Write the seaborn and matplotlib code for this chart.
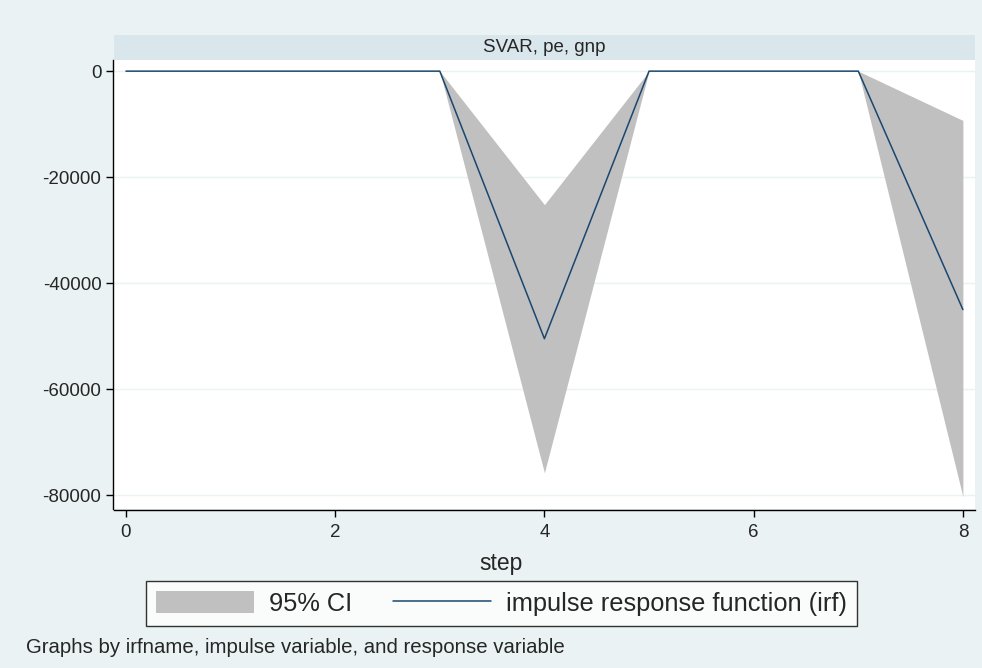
import matplotlib
matplotlib.use("Agg")
import matplotlib.pyplot as plt
import seaborn as sns
import pandas as pd
from matplotlib.patches import Patch
from matplotlib.lines import Line2D

step = [0, 1, 2, 3, 4, 5, 6, 7, 8]
irf = [0, 0, 0, 0, -50500, 0, 0, 0, -45000]
ci_low = [0, 0, 0, 0, -75800, 0, 0, 0, -80300]
ci_high = [0, 0, 0, 0, -25200, 0, 0, 0, -9300]
y_ticks = [0, -20000, -40000, -60000, -80000]
x_ticks = [0, 2, 4, 6, 8]

df = pd.DataFrame({"step": step, "irf": irf, "lo": ci_low, "hi": ci_high})

sns.set_theme(style="white")
plt.rcParams["font.family"] = ["Liberation Sans", "DejaVu Sans"]
plt.rcParams["axes.unicode_minus"] = False

bg = "#EAF2F3"
fig = plt.figure(figsize=(9.82, 6.68), dpi=100, facecolor=bg)
ax = fig.add_axes([0.116, 0.238, 0.877, 0.672])
ax.set_facecolor("white")

# banda de confianza y funcion impulso-respuesta
ax.fill_between(df["step"], df["lo"], df["hi"], color="#C0C0C0", linewidth=0, zorder=2)
sns.lineplot(data=df, x="step", y="irf", color="#1A476F", linewidth=1.1, ax=ax, zorder=3)

ax.set_xlim(-0.115, 8.117)
ax.set_ylim(-82640, 2080)
ax.set_xticks(x_ticks)
ax.set_yticks(y_ticks)
ax.set_yticklabels([str(v) for v in y_ticks])
ax.yaxis.grid(True, color=bg, linewidth=1)
ax.set_axisbelow(True)
ax.tick_params(axis="both", direction="out", length=5, width=1, color="black",
               labelsize=13.5, left=True, bottom=True)
ax.tick_params(axis="y", pad=3)
ax.tick_params(axis="x", pad=5)
for s in ["top", "right"]:
    ax.spines[s].set_visible(False)
for s in ["left", "bottom"]:
    ax.spines[s].set_color("black")
    ax.spines[s].set_linewidth(1)
ax.spines["left"].set_position(("outward", 1))
ax.spines["bottom"].set_position(("outward", 1))
ax.set_xlabel("step", fontsize=16.5, labelpad=8)
ax.xaxis.label.set_x(0.45)
ax.set_ylabel("")

# cabecera del panel
strip = fig.add_axes([0.116, 0.910, 0.877, 0.038])
strip.set_facecolor("#D9E6EB")
strip.set_xticks([])
strip.set_yticks([])
for s in strip.spines.values():
    s.set_visible(False)
strip.text(0.5, 0.5, "SVAR, pe, gnp", ha="center", va="center", fontsize=13.5)

handles = [Patch(facecolor="#C0C0C0", edgecolor="none"),
           Line2D([0], [0], color="#1A476F", linewidth=1.1)]
leg = fig.legend(handles, ["95% CI", "impulse response function (irf)"],
                 loc="center", bbox_to_anchor=(0.511, 0.097), ncol=2,
                 fontsize=18.3, frameon=True, fancybox=False, edgecolor="black",
                 facecolor="white", handlelength=3.85, handleheight=0.95,
                 handletextpad=0.6, columnspacing=1.6, borderpad=0.4,
                 borderaxespad=0)
leg.get_frame().set_linewidth(1)

fig.text(0.026, 0.030, "Graphs by irfname, impulse variable, and response variable",
         fontsize=14.7, va="center")

fig.savefig("out.png", dpi=100, facecolor=bg)
